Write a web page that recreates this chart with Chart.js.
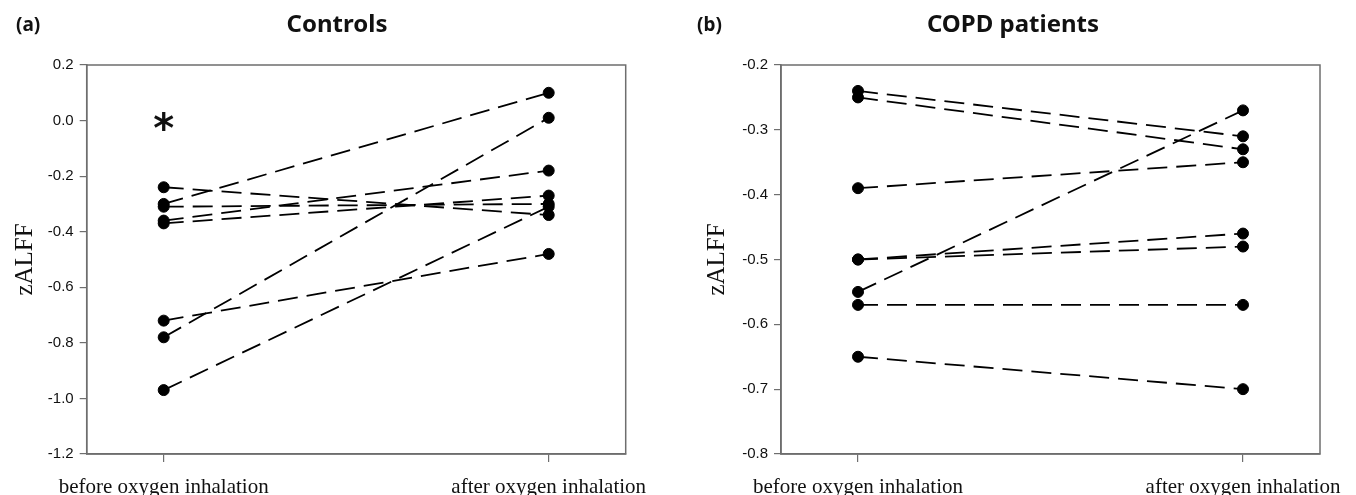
<!DOCTYPE html>
<html>
<head>
<meta charset="utf-8">
<script src="https://cdn.jsdelivr.net/npm/chart.js@4/dist/chart.umd.min.js"></script>
<style>
  body { margin: 0; background: #fff; overflow: hidden; width: 1356px; height: 495px; position: relative; }
  canvas { position: absolute; top: 0; }
</style>
</head>
<body>
<canvas id="controls_chart" width="680" height="495" style="left:0"></canvas>
<canvas id="copd_chart" width="720" height="495" style="left:680px"></canvas>
<script>
const categories = ['before oxygen inhalation', 'after oxygen inhalation'];

// Controls, one pair per subject
const controlsBefore = [-0.24, -0.30, -0.31, -0.36, -0.37, -0.72, -0.78, -0.97];
const controlsAfter = [-0.34, 0.10, -0.30, -0.18, -0.27, -0.48, 0.01, -0.31];

// COPD patients
const copdBefore = [-0.24, -0.25, -0.39, -0.50, -0.50, -0.55, -0.57, -0.65];
const copdAfter = [-0.31, -0.33, -0.35, -0.46, -0.48, -0.27, -0.57, -0.70];

const controlsTicks = [-1.2, -1.0, -0.8, -0.6, -0.4, -0.2, 0.0, 0.2];
const copdTicks = [-0.8, -0.7, -0.6, -0.5, -0.4, -0.3, -0.2];

const axisGray = '#6e6e6e';

// frame round the plot area + titles + significance mark
const panelPlugin = {
  id: 'panel',
  afterDraw(chart, args, opts) {
    const ctx = chart.ctx;
    const a = chart.chartArea;
    ctx.save();
    ctx.strokeStyle = axisGray;
    ctx.lineWidth = 1.5;
    ctx.strokeRect(a.left, a.top, a.right - a.left, a.bottom - a.top);

    ctx.fillStyle = '#111';
    ctx.textAlign = 'left';
    ctx.textBaseline = 'alphabetic';
    ctx.font = 'bold 19px "Noto Sans"';
    ctx.fillText(opts.label, opts.labelX, 31);
    ctx.textAlign = 'center';
    ctx.font = 'bold 24px "Noto Sans"';
    ctx.fillText(opts.title, opts.titleX, 32);

    if (opts.mark) {
      const px = chart.scales.x.getPixelForValue(opts.mark.x);
      const py = chart.scales.y.getPixelForValue(opts.mark.y);
      ctx.font = 'bold 40px "DejaVu Sans"';
      const m = ctx.measureText('*');
      const asc = m.actualBoundingBoxAscent, desc = m.actualBoundingBoxDescent;
      ctx.fillText('*', px, py + (asc - desc) / 2);
    }
    ctx.restore();
  }
};

function buildDatasets(before, after) {
  return before.map((b, i) => ({
    data: [{x: 0, y: b}, {x: 1, y: after[i]}],
    borderColor: '#000',
    borderWidth: 1.8,
    borderDash: [20, 9],
    pointRadius: 5.5,
    pointBackgroundColor: '#000',
    pointBorderColor: '#000',
    pointBorderWidth: 1,
    fill: false,
    tension: 0
  }));
}

function makeChart(id, before, after, yTicks, yWidth, padLeft, padRight, panel) {
  return new Chart(id, {
    type: 'line',
    data: { datasets: buildDatasets(before, after) },
    options: {
      responsive: false,
      animation: false,
      layout: { padding: { top: 65, left: padLeft, right: padRight, bottom: 0 } },
      plugins: {
        legend: { display: false },
        tooltip: { enabled: false },
        panel: panel
      },
      scales: {
        x: {
          type: 'linear',
          min: -0.2,
          max: 1.2,
          afterBuildTicks: s => { s.ticks = [{value: 0}, {value: 1}]; },
          afterFit: s => { s.height = 41; },
          grid: { drawOnChartArea: false, tickLength: 8, color: axisGray, lineWidth: 1.2 },
          border: { color: axisGray, width: 1.5 },
          ticks: {
            padding: 13,
            maxRotation: 0,
            color: '#111',
            font: { family: '"Liberation Serif"', size: 21 },
            callback: v => categories[v]
          }
        },
        y: {
          min: yTicks[0],
          max: yTicks[yTicks.length - 1],
          afterBuildTicks: s => { s.ticks = yTicks.map(v => ({value: v})); },
          afterFit: s => { s.width = yWidth; },
          grid: { drawOnChartArea: false, tickLength: 7, color: axisGray, lineWidth: 1.2 },
          border: { color: axisGray, width: 1.5 },
          ticks: {
            padding: 6,
            color: '#111',
            font: { family: '"Liberation Sans"', size: 15 },
            callback: v => v.toFixed(1)
          },
          title: {
            display: true,
            text: 'zALFF',
            color: '#111',
            font: { family: '"Liberation Serif"', size: 25 },
            padding: { top: 4, bottom: 4 }
          }
        }
      }
    },
    plugins: [panelPlugin]
  });
}

makeChart('controls_chart', controlsBefore, controlsAfter, controlsTicks, 80.4, 6.3, 54.3,
  { label: '(a)', labelX: 16, title: 'Controls', titleX: 337, mark: {x: 0, y: 0.0} });

makeChart('copd_chart', copdBefore, copdAfter, copdTicks, 82.7, 18.3, 80,
  { label: '(b)', labelX: 17, title: 'COPD patients', titleX: 333, mark: null });
</script>
</body>
</html>
